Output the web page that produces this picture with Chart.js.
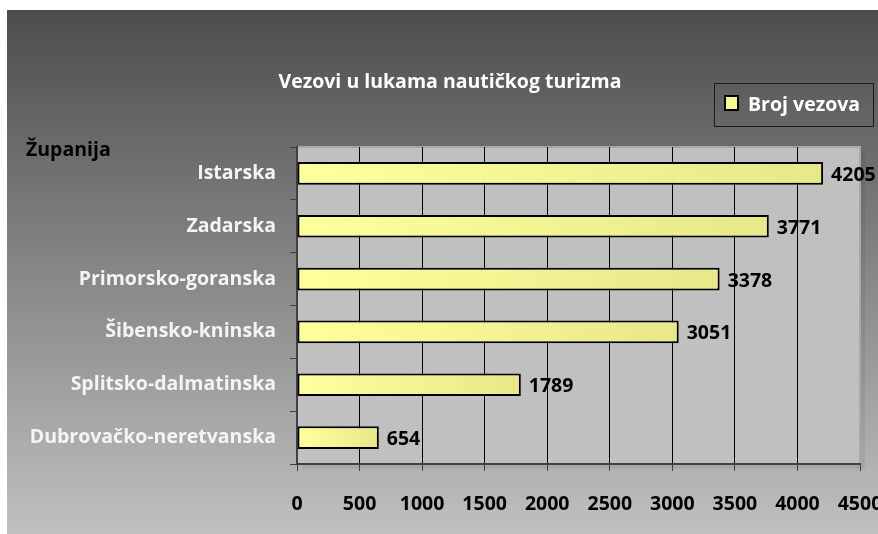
<!DOCTYPE html>
<html>
<head>
<meta charset="utf-8">
<script src="https://cdn.jsdelivr.net/npm/chart.js@4/dist/chart.umd.min.js"></script>
<style>
html,body{margin:0;padding:0;background:#fff;}
#wrap{width:878px;height:534px;position:relative;}
</style>
</head>
<body>
<div id="wrap"><canvas id="c" width="878" height="534"></canvas></div>
<script>
const chartTitle = 'Vezovi u lukama nautičkog turizma';
const axisTitle = 'Županija';
const seriesName = 'Broj vezova';
const categories = ['Istarska','Zadarska','Primorsko-goranska','Šibensko-kninska','Splitsko-dalmatinska','Dubrovačko-neretvanska'];
const values = [4205, 3771, 3378, 3051, 1789, 654];
const xMin = 0, xMax = 4500, xStep = 500;

const FONT = '"Open Sans", Lato, sans-serif';
const FS = 19.5;

const decor = {
  id: 'decor',
  beforeDraw(chart) {
    const ctx = chart.ctx, W = chart.width, H = chart.height, a = chart.chartArea;
    ctx.save();
    ctx.fillStyle = '#ffffff';
    ctx.fillRect(0, 0, W, H);
    const g = ctx.createLinearGradient(0, 10, 0, H);
    g.addColorStop(0, '#4d4d4d');
    g.addColorStop(1, '#c0c0c0');
    ctx.fillStyle = g;
    ctx.fillRect(7, 10, W - 7, H - 10);
    ctx.fillStyle = 'rgba(0,0,0,0.06)';
    ctx.fillRect(a.left + 5, a.top + 5, a.right - a.left, a.bottom - a.top);
    ctx.fillStyle = '#c0c0c0';
    ctx.fillRect(a.left, a.top, a.right - a.left, a.bottom - a.top);
    ctx.strokeStyle = '#a8a8a8';
    ctx.lineWidth = 2;
    ctx.beginPath();
    ctx.moveTo(a.left, a.top);
    ctx.lineTo(a.right, a.top);
    ctx.lineTo(a.right, a.bottom);
    ctx.stroke();
    ctx.restore();
  },
  afterDraw(chart) {
    const ctx = chart.ctx;
    ctx.save();
    ctx.font = 'bold ' + FS + 'px ' + FONT;
    ctx.fillStyle = '#ffffff';
    ctx.textAlign = 'center';
    ctx.textBaseline = 'middle';
    ctx.fillText(chartTitle, 450, 82);
    ctx.fillStyle = '#000000';
    ctx.textAlign = 'left';
    ctx.textBaseline = 'alphabetic';
    ctx.fillText(axisTitle, 26, 156);
    const lx = 714, ly = 83, lw = 159, lh = 43;
    ctx.strokeStyle = '#1a1a1a';
    ctx.lineWidth = 1;
    ctx.strokeRect(lx + 0.5, ly + 0.5, lw, lh);
    ctx.fillStyle = '#f8f894';
    ctx.fillRect(725, 96, 13, 14);
    ctx.strokeStyle = '#000';
    ctx.lineWidth = 2;
    ctx.strokeRect(725, 96, 13, 14);
    ctx.fillStyle = '#ffffff';
    ctx.textBaseline = 'middle';
    ctx.fillText(chart.data.datasets[0].label, 748, 105);
    ctx.restore();
  },
  afterDatasetsDraw(chart) {
    const ctx = chart.ctx;
    const meta = chart.getDatasetMeta(0);
    ctx.save();
    ctx.font = 'bold ' + FS + 'px ' + FONT;
    ctx.fillStyle = '#000000';
    ctx.textAlign = 'left';
    ctx.textBaseline = 'middle';
    meta.data.forEach((bar, i) => {
      ctx.fillText(String(chart.data.datasets[0].data[i]), bar.x + 8, bar.y + 2);
    });
    ctx.restore();
  }
};

new Chart(document.getElementById('c'), {
  type: 'bar',
  data: {
    labels: categories,
    datasets: [{
      label: seriesName,
      data: values,
      backgroundColor: (c) => {
        const chart = c.chart, xs = chart.scales && chart.scales.x;
        if (!xs || c.type !== 'data') return '#f5f592';
        const x0 = xs.getPixelForValue(0), x1 = xs.getPixelForValue(c.raw);
        if (!isFinite(x0) || !isFinite(x1) || x1 <= x0) return '#f5f592';
        const g = chart.ctx.createLinearGradient(x0, 0, x1, 0);
        g.addColorStop(0, '#ffff9c');
        g.addColorStop(1, '#e8e88a');
        return g;
      },
      borderColor: '#000000',
      borderWidth: 2,
      borderSkipped: false,
      categoryPercentage: 1,
      barPercentage: 0.43
    }]
  },
  options: {
    indexAxis: 'y',
    responsive: false,
    animation: false,
    layout: { padding: { top: 147, right: 18, bottom: 0, left: 0 } },
    plugins: {
      legend: { display: false },
      title: { display: false },
      tooltip: { enabled: false }
    },
    scales: {
      x: {
        min: xMin, max: xMax,
        ticks: {
          stepSize: xStep,
          color: '#000000',
          font: { family: FONT, size: FS, weight: 'bold' },
          padding: 22,
          maxRotation: 0,
          autoSkip: false,
          callback: (v) => String(v)
        },
        grid: {
          color: (c) => (c.index === 9 ? '#a8a8a8' : '#000000'),
          lineWidth: 1,
          tickColor: '#404040',
          tickLength: 7
        },
        border: { color: '#404040', width: 2 },
        afterFit(s) { s.height = 70; s.paddingLeft = 0; s.paddingRight = 0; }
      },
      y: {
        ticks: {
          color: '#f4f4f4',
          font: { family: FONT, size: FS, weight: 'bold' },
          padding: 14,
          autoSkip: false
        },
        grid: {
          drawOnChartArea: false,
          tickColor: '#404040',
          tickLength: 7,
          lineWidth: 1
        },
        border: { color: '#404040', width: 2 },
        afterFit(s) { s.width = 297; s.paddingTop = 0; s.paddingBottom = 0; }
      }
    }
  },
  plugins: [decor]
});
</script>
</body>
</html>
